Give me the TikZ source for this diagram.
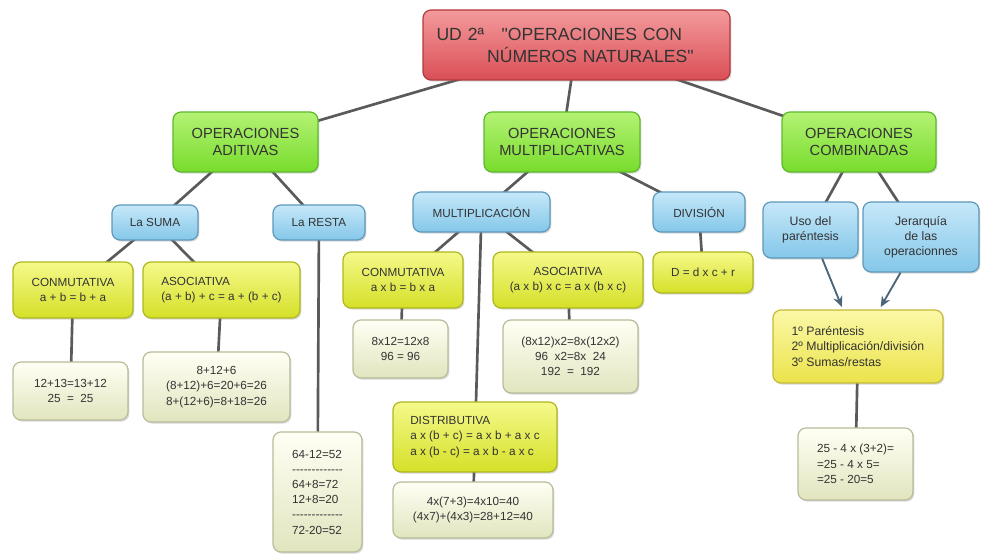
\documentclass[tikz,border=0pt]{standalone}
\usepackage{fontspec}
\setmainfont{Liberation Sans}[Ligatures=TeXOff]
\usetikzlibrary{arrows.meta,shadows,backgrounds}
\definecolor{texto}{HTML}{333333}
\definecolor{gris}{HTML}{5A5A5A}
\definecolor{azulgris}{HTML}{4D6577}
\definecolor{rojoA}{HTML}{F39A9C}
\definecolor{rojoB}{HTML}{DA4F56}
\definecolor{rojoC}{HTML}{B03A3E}
\definecolor{verdeA}{HTML}{B4F274}
\definecolor{verdeB}{HTML}{78DC2C}
\definecolor{verdeC}{HTML}{5DB82E}
\definecolor{azulA}{HTML}{C6E8F9}
\definecolor{azulB}{HTML}{84C7E9}
\definecolor{azulC}{HTML}{5E98BA}
\definecolor{limaA}{HTML}{F5F98A}
\definecolor{limaB}{HTML}{D5E028}
\definecolor{limaC}{HTML}{AEB81E}
\definecolor{amaA}{HTML}{FBF8A8}
\definecolor{amaB}{HTML}{EBE34A}
\definecolor{amaC}{HTML}{C5BA36}
\definecolor{claroA}{HTML}{FFFFF4}
\definecolor{claroB}{HTML}{E1E5BE}
\definecolor{claroC}{HTML}{B8BC9A}
\begin{document}
\begin{tikzpicture}[x=0.75pt,y=-0.75pt,
    caja/.style={draw,line width=0.9pt,rounded corners=6pt,inner sep=0pt,text=texto,align=center,
      font=\fontsize{8.8}{11.4}\selectfont,
      drop shadow={shadow xshift=1pt,shadow yshift=-1.2pt,opacity=0.3}},
    tam/.style 2 args={minimum width=#1*0.75pt,minimum height=#2*0.75pt},
    rojo/.style={caja,top color=rojoA,bottom color=rojoB,draw=rojoC},
    verde/.style={caja,top color=verdeA,bottom color=verdeB,draw=verdeC,font=\fontsize{11}{13}\selectfont},
    azul/.style={caja,top color=azulA,bottom color=azulB,draw=azulC},
    lima/.style={caja,top color=limaA,bottom color=limaB,draw=limaC},
    amarillo/.style={caja,top color=amaA,bottom color=amaB,draw=amaC},
    claro/.style={caja,top color=claroA,bottom color=claroB,draw=claroC},
    linea/.style={draw=gris,line width=2pt},
    flecha/.style={draw=azulgris,line width=1.4pt,-{Stealth[length=8pt,width=7pt]},shorten >=2pt}]
  \useasboundingbox (0,0) rectangle (990,559);
  \node[rojo,tam={307}{70},align=left,text width=280*0.75pt,font=\fontsize{13.2}{16.5}\selectfont] (titulo) at (576.5,45)
    {UD 2ª\ \ \ "OPERACIONES CON\\\hspace*{38pt}NÚMEROS NATURALES"};
  \node[verde,tam={145}{60}] (aditivas) at (245.5,142) {OPERACIONES\\ADITIVAS};
  \node[verde,tam={156}{60}] (multiplicativas) at (562,142) {OPERACIONES\\MULTIPLICATIVAS};
  \node[verde,tam={154}{60}] (combinadas) at (859,142) {OPERACIONES\\COMBINADAS};
  \node[azul,tam={86}{35}] (suma) at (155,222.5) {La SUMA};
  \node[azul,tam={92}{35}] (resta) at (319,222.5) {La RESTA};
  \node[azul,tam={137}{40}] (multiplicacion) at (481.5,212) {MULTIPLICACIÓN};
  \node[azul,tam={92}{40}] (division) at (699,212) {DIVISIÓN};
  \node[azul,tam={95}{56},font=\fontsize{9.2}{11.4}\selectfont] (uso) at (810.5,230) {Uso del\\paréntesis};
  \node[azul,tam={116}{70},font=\fontsize{9.2}{11.4}\selectfont] (jerarquia) at (921,237) {Jerarquía\\de las\\operacionnes};
  \node[lima,tam={120}{56}] (conmsuma) at (73,290) {CONMUTATIVA\\a + b = b + a};
  \node[lima,tam={157}{56},align=left] (asocsuma) at (221.5,290) {ASOCIATIVA\\(a + b) + c = a + (b + c)};
  \node[claro,tam={115}{58}] (ejconmsuma) at (70.5,391) {12+13=13+12\\25 \ = \ 25};
  \node[claro,tam={147}{70}] (ejasocsuma) at (216.5,387) {8+12+6\\(8+12)+6=20+6=26\\8+(12+6)=8+18=26};
  \node[claro,tam={89}{120},align=left] (ejresta) at (317.5,492)
    {64-12=52\\-{}-{}-{}-{}-{}-{}-{}-{}-{}-{}-{}-{}-\\64+8=72\\12+8=20\\-{}-{}-{}-{}-{}-{}-{}-{}-{}-{}-{}-{}-\\72-20=52};
  \node[lima,tam={120}{56}] (conmmult) at (403,280) {CONMUTATIVA\\a x b = b x a};
  \node[lima,tam={150}{56}] (asocmult) at (568,280) {ASOCIATIVA\\(a x b) x c = a x (b x c)};
  \node[claro,tam={95}{58}] (ejconmmult) at (400.5,349) {8x12=12x8\\96 = 96};
  \node[claro,tam={135}{73}] (ejasocmult) at (570.5,356.5) {(8x12)x2=8x(12x2)\\96 \ x2=8x \ 24\\192 \ = \ 192};
  \node[lima,tam={164}{70},align=left] (distributiva) at (475,437)
    {DISTRIBUTIVA\\a x (b + c) = a x b + a x c\\a x (b - c) = a x b - a x c};
  \node[claro,tam={160}{56}] (ejdistributiva) at (473,510) {4x(7+3)=4x10=40\\(4x7)+(4x3)=28+12=40};
  \node[lima,tam={100}{41}] (formula) at (703,272.5) {D = d x c + r};
  \node[amarillo,tam={170}{73},align=left,font=\fontsize{9.2}{11.4}\selectfont] (orden) at (858,346.5)
    {1º Paréntesis\\2º Multiplicación/división\\3º Sumas/restas};
  \node[claro,tam={115}{72},align=left] (ejorden) at (855.5,464) {25 - 4 x (3+2)=\\=25 - 4 x 5=\\=25 - 20=5};
  \begin{scope}[on background layer]
    \draw[linea] (titulo.center) -- (aditivas.center);
    \draw[linea] (titulo.center) -- (multiplicativas.center);
    \draw[linea] (titulo.center) -- (combinadas.center);
    \draw[linea] (aditivas.center) -- (suma.center);
    \draw[linea] (aditivas.center) -- (resta.center);
    \draw[linea] (suma.center) -- (conmsuma.center);
    \draw[linea] (suma.center) -- (asocsuma.center);
    \draw[linea] (conmsuma.center) -- (ejconmsuma.center);
    \draw[linea] (asocsuma.center) -- (ejasocsuma.center);
    \draw[linea] (resta.center) -- (ejresta.center);
    \draw[linea] (multiplicativas.center) -- (multiplicacion.center);
    \draw[linea] (multiplicativas.center) -- (division.center);
    \draw[linea] (multiplicacion.center) -- (conmmult.center);
    \draw[linea] (multiplicacion.center) -- (asocmult.center);
    \draw[linea] (multiplicacion.center) -- (distributiva.center);
    \draw[linea] (conmmult.center) -- (ejconmmult.center);
    \draw[linea] (asocmult.center) -- (ejasocmult.center);
    \draw[linea] (distributiva.center) -- (ejdistributiva.center);
    \draw[linea] (division.center) -- (formula.center);
    \draw[linea] (combinadas.center) -- (uso.center);
    \draw[linea] (combinadas.center) -- (jerarquia.center);
    \draw[linea] (orden.center) -- (ejorden.center);
  \end{scope}
  \draw[flecha] (uso) -- (orden);
  \draw[flecha] (jerarquia) -- (orden);
\end{tikzpicture}
\end{document}
